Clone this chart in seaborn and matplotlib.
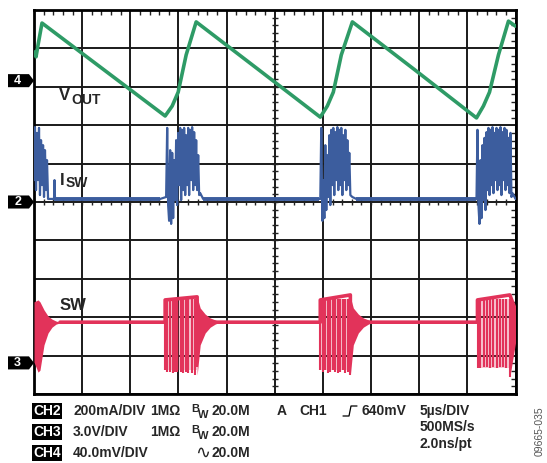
import matplotlib.pyplot as plt
import matplotlib.transforms as mtransforms
from matplotlib.patches import Polygon
from matplotlib.lines import Line2D
from matplotlib.ticker import MultipleLocator
import seaborn as sns

# time axis in us (5 us/DIV), traces in screen divisions (0 = centre line)

# CH4: VOUT ripple
vout_t = [0.10, 0.21, 0.42, 0.83, 7.17, 13.62, 14.35, 14.97, 15.80, 16.84,
          23.30, 29.73, 30.46, 31.08, 31.91, 33.06, 39.50, 45.95, 46.67,
          47.30, 48.23, 49.27, 50.00]
vout_y = [3.91, 3.78, 4.09, 4.66, 3.46, 2.24, 2.50, 2.86, 3.83, 4.69,
          3.45, 2.21, 2.50, 2.86, 3.83, 4.69, 3.45, 2.19, 2.50,
          2.86, 3.83, 4.71, 4.58]

# CH2: ISW, start of record + three bursts
isw_t0 = [0.00, 0.10, 0.21, 0.31, 0.42, 0.52, 0.62, 0.73, 0.83, 0.94, 1.04,
          1.14, 1.25, 1.35, 1.46, 2.08, 2.13, 2.18, 13.10]
isw_y0 = [0.57, 1.95, 0.31, 1.80, 0.57, 1.93, 0.18, 1.61, 0.44, 1.48, 0.13,
          1.35, 0.31, 1.09, 0.08, 0.08, 0.57, 0.08, 0.08]
isw_t1 = [13.72, 13.83, 13.93, 14.03, 14.14, 14.24, 14.35, 14.45, 14.55, 14.66,
          14.76, 14.86, 14.97, 15.07, 15.18, 15.28, 15.38, 15.49, 15.59, 15.70,
          15.80, 15.90, 16.01, 16.11, 16.22, 16.32, 16.42, 16.53, 16.63, 16.74,
          16.84, 16.94, 17.05, 17.15, 17.26, 17.57, 29.62]
isw_y1 = [0.13, 1.93, -0.08, -0.49, 1.35, -0.57, 1.28, -0.42, 1.09, 0.05,
          1.61, -0.08, 1.80, 0.44, 1.93, 0.05, 1.88, 0.31, 1.93, 0.18,
          1.74, 0.44, 1.93, 0.18, 1.88, 0.57, 1.95, 0.31, 1.82, 0.44,
          1.61, 0.31, 1.22, 0.18, 0.23, 0.08, 0.08]
isw_t2 = [29.73, 29.83, 29.94, 30.04, 30.15, 30.25, 30.35, 30.46, 30.56, 30.67,
          30.77, 30.87, 30.98, 31.08, 31.18, 31.29, 31.39, 31.50, 31.60, 31.70,
          31.81, 31.91, 32.02, 32.12, 32.22, 32.33, 32.43, 32.54, 32.64, 32.74,
          32.85, 33.06, 33.47, 45.85]
isw_y2 = [0.08, 1.93, -0.49, 0.57, -0.42, 1.48, -0.21, 1.22, 0.13, 1.74,
          -0.08, 1.88, 0.44, 1.93, 0.18, 1.82, 0.57, 1.95, 0.31, 1.88,
          0.44, 1.93, 0.18, 1.74, 0.57, 1.88, 0.31, 1.61, 0.44, 1.28,
          0.18, 0.13, 0.08, 0.08]
isw_t3 = [45.95, 46.05, 46.15, 46.26, 46.36, 46.47, 46.57, 46.67, 46.78, 46.88,
          46.99, 47.09, 47.19, 47.30, 47.40, 47.51, 47.61, 47.71, 47.82, 47.92,
          48.03, 48.13, 48.23, 48.34, 48.44, 48.54, 48.65, 48.75, 48.86, 48.96,
          49.06, 49.17, 49.27, 49.38, 49.48, 49.58, 49.69, 50.00]
isw_y3 = [0.08, 1.88, -0.08, -0.57, 1.09, -0.42, 1.48, 0.05, 1.67, -0.21,
          1.82, 0.31, 1.93, 0.18, 1.88, 0.44, 1.95, 0.23, 1.80, 0.57,
          1.93, 0.31, 1.88, 0.44, 1.95, 0.18, 1.82, 0.57, 1.93, 0.31,
          1.88, 0.44, 1.67, 0.23, 1.80, 0.13, 0.23, 0.08]
isw_base = 0.08

# CH3: SW node
sw_line_t = [2.70, 13.62, 13.62, 16.94, 16.94, 19.30, 29.73, 29.73, 32.85,
             32.85, 35.23, 46.05, 46.05, 49.41, 50.00]
sw_line_y = [-3.13, -3.13, -2.55, -2.47, -3.13, -3.13, -3.13, -2.55, -2.42,
             -3.13, -3.13, -3.13, -2.55, -2.42, -2.81]
sw_start_t = [0.00, 0.42, 0.62, 1.04, 1.46, 1.87, 2.29, 2.70]
sw_start_hi = [-2.60, -2.55, -2.60, -2.81, -2.97, -3.05, -3.10, -3.13]
sw_start_lo = [-4.17, -4.43, -4.38, -3.72, -3.41, -3.26, -3.18, -3.15]
sw_pulse_t1 = [13.62, 13.83, 14.14, 14.45, 14.66, 14.86, 15.28, 15.49, 15.80,
               16.01, 16.42, 16.74, 16.94]
sw_pulse_lo1 = [-4.38, -4.43, -4.43, -4.45, -4.43, -4.43, -4.43, -4.45, -4.43,
                -4.45, -4.45, -4.51, -4.30]
sw_pulse_t2 = [29.73, 29.97, 30.25, 30.49, 30.77, 31.01, 31.29, 31.57, 31.81,
               32.05, 32.33, 32.57, 32.85]
sw_pulse_lo2 = [-4.38, -4.43, -4.38, -4.45, -4.43, -4.38, -4.43, -4.45, -4.43,
                -4.38, -4.45, -4.43, -4.51]
sw_pulse_t3 = [46.08, 46.36, 46.71, 46.99, 47.33, 47.69, 48.03, 48.37, 48.72,
               49.06, 49.41]
sw_pulse_lo3 = [-4.32, -4.32, -4.30, -4.30, -4.32, -4.30, -4.32, -4.30, -4.30,
                -4.32, -4.56]
sw_top = -2.52
sw_ring_t1 = [16.94, 17.26, 17.78, 18.30, 18.81, 19.30]
sw_ring_t2 = [32.85, 33.16, 33.68, 34.20, 34.72, 35.23]
sw_ring_hi = [-2.47, -2.76, -2.92, -3.02, -3.07, -3.13]
sw_ring_lo = [-4.51, -3.72, -3.41, -3.26, -3.18, -3.13]
sw_ring_t3 = [49.41, 50.00]
sw_ring_hi3 = [-2.42, -2.81]
sw_ring_lo3 = [-4.56, -3.67]

ch_names = ["4", "2", "3"]
ch_levels = [3.16, 0.0, -4.19]

GREEN = "#2E9B66"
BLUE = "#3C5D9E"
RED = "#E2335A"

sns.set_style("white")
plt.rcParams['font.family'] = ['Liberation Sans', 'DejaVu Sans']

W, H = 547, 463
fig = plt.figure(figsize=(W / 100, H / 100), dpi=100)
ax = fig.add_axes([34 / W, 1 - 394 / H, 481.5 / W, 384 / H])
ax.set_xlim(0, 50)
ax.set_ylim(-5, 5)

# graticule
ax.xaxis.set_major_locator(MultipleLocator(5))
ax.yaxis.set_major_locator(MultipleLocator(1))
ax.xaxis.set_minor_locator(MultipleLocator(1))
ax.yaxis.set_minor_locator(MultipleLocator(0.2))
ax.grid(which='major', color='#1a1a1a', lw=1.4)
ax.set_axisbelow(True)
ax.tick_params(which='both', direction='in', top=True, right=True,
               labelbottom=False, labelleft=False)
ax.tick_params(which='major', length=0)
ax.tick_params(which='minor', length=3.5, width=1.0, color='#222222')
for sp in ax.spines.values():
    sp.set_linewidth(2.0)
    sp.set_color('black')

# centre-line ticks
minor_y = [i * 0.2 - 5 for i in range(51)]
minor_x = [i * 1.0 for i in range(51)]
ax.hlines(minor_y, 25 - 0.32, 25 + 0.32, color='#222222', lw=1.0, zorder=1)
ax.vlines(minor_x, -0.08, 0.08, color='#222222', lw=1.0, zorder=1)

# traces
sns.lineplot(x=vout_t, y=vout_y, sort=False, estimator=None, ax=ax,
             color=GREEN, lw=2.6, zorder=3)

isw_t = isw_t0 + isw_t1 + isw_t2 + isw_t3
isw_y = isw_y0 + isw_y1 + isw_y2 + isw_y3
sns.lineplot(x=isw_t, y=isw_y, sort=False, estimator=None, ax=ax,
             color=BLUE, lw=1.6, zorder=3)
ax.hlines([isw_base] * 3, [isw_t0[-4], isw_t1[-2], isw_t2[-2]],
          [isw_t0[-1], isw_t1[-1], isw_t2[-1]], color=BLUE, lw=2.8, zorder=3)

ax.fill_between(sw_start_t, sw_start_lo, sw_start_hi, color=RED, lw=0, zorder=3)
for pt, plo in [(sw_pulse_t1, sw_pulse_lo1), (sw_pulse_t2, sw_pulse_lo2),
                (sw_pulse_t3, sw_pulse_lo3)]:
    ax.fill_between([pt[0], pt[-1]], [plo[0]] * 2, [sw_top] * 2,
                    color=RED, alpha=0.28, lw=0, zorder=2)
    ax.vlines(pt, plo, sw_top, color=RED, lw=1.5, zorder=3)
ax.fill_between(sw_ring_t1, sw_ring_lo, sw_ring_hi, color=RED, lw=0, zorder=3)
ax.fill_between(sw_ring_t2, sw_ring_lo, sw_ring_hi, color=RED, lw=0, zorder=3)
ax.fill_between(sw_ring_t3, sw_ring_lo3, sw_ring_hi3, color=RED, lw=0, zorder=3)
sns.lineplot(x=sw_line_t, y=sw_line_y, sort=False, estimator=None, ax=ax,
             color=RED, lw=2.6, zorder=3)
ax.set_xlabel("")
ax.set_ylabel("")

# trace labels (main letter + subscript)
lab_kw = dict(fontweight='bold', va='baseline', ha='left', zorder=5)
ax.text(2.55, 2.66, 'V', fontsize=12, **lab_kw)
ax.text(3.85, 2.56, 'OUT', fontsize=10, **lab_kw)
ax.text(2.70, 0.44, 'I', fontsize=12, **lab_kw)
ax.text(3.25, 0.38, 'SW', fontsize=10, **lab_kw)
ax.text(2.70, -2.81, 'SW', fontsize=12, **lab_kw)

# channel ground markers
trans = mtransforms.blended_transform_factory(ax.transAxes, ax.transData)
for name, lvl in zip(ch_names, ch_levels):
    poly = Polygon([(-0.054, lvl - 0.17), (-0.0104, lvl - 0.17), (0.0, lvl),
                    (-0.0104, lvl + 0.17), (-0.054, lvl + 0.17)],
                   closed=True, transform=trans, fc='black', ec='none', clip_on=False)
    ax.add_patch(poly)
    ax.text(-0.034, lvl, name, transform=trans, color='white', fontsize=9,
            fontweight='bold', ha='center', va='center', clip_on=False)

# scope settings readout
def ftxt(px, py, s, **kw):
    opts = dict(fontsize=10, fontweight='bold', va='center', ha='left')
    opts.update(kw)
    return fig.text(px / W, 1 - py / H, s, **opts)

box = dict(boxstyle='square,pad=0.1', fc='black', ec='none')
rows = [411, 432, 453]
ftxt(33, rows[0], 'CH2', color='white', bbox=box)
ftxt(33, rows[1], 'CH3', color='white', bbox=box)
ftxt(33, rows[2], 'CH4', color='white', bbox=box)
ftxt(73, rows[0], '200mA/DIV')
ftxt(73, rows[1], '3.0V/DIV')
ftxt(73, rows[2], '40.0mV/DIV')
for r in rows[:2]:
    ftxt(150, r, '1MΩ')
    ftxt(191, r - 2, 'B', fontsize=8)
    ftxt(198, r + 4, 'W', fontsize=8)
    ftxt(212, r, '20.0M')
ftxt(195, rows[2], '∿', fontsize=13, fontweight='normal')
ftxt(212, rows[2], '20.0M')
ftxt(277, rows[0], 'A')
ftxt(299, rows[0], 'CH1')
fig.add_artist(Line2D([343 / W, 349 / W, 351 / W, 357 / W],
                      [1 - 416 / H, 1 - 416 / H, 1 - 406 / H, 1 - 406 / H],
                      transform=fig.transFigure, color='black', lw=0.9))
ftxt(361, rows[0], '640mV')
ftxt(420, 411, '5µs/DIV')
ftxt(420, 427, '500MS/s')
ftxt(420, 444, '2.0ns/pt')
fig.text(540 / W, 1 - 431 / H, '09665-035', rotation=90, fontsize=7.5,
         color='#555555', ha='center', va='center')

fig.savefig('out.png', dpi=100)
